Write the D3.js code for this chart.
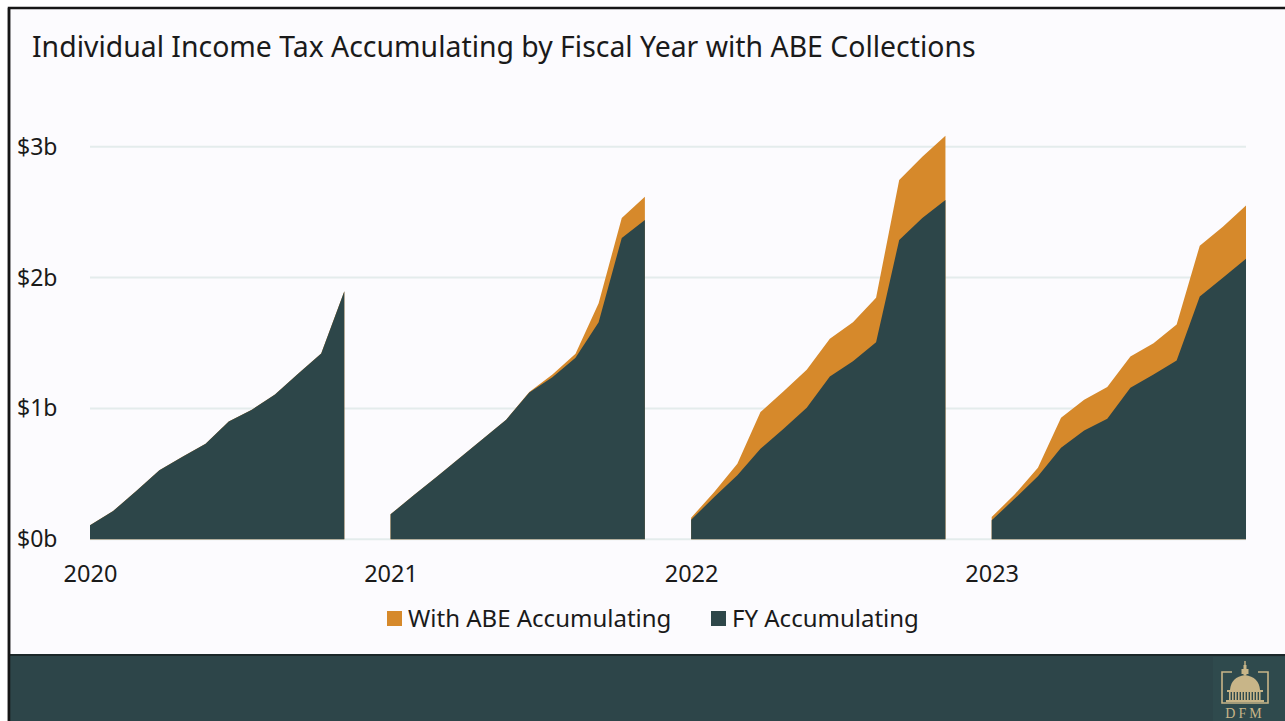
<!DOCTYPE html>
<html lang="en">
<head>
<meta charset="utf-8">
<title>Individual Income Tax Accumulating</title>
<script src="https://d3js.org/d3.v7.min.js"></script>
<style>
  body { margin: 0; background: #fff; }
  text { font-family: "Noto Sans", "Open Sans", sans-serif; }
</style>
</head>
<body>
<script>

var W = 1285, H = 721;

// fiscal years shown, and the accumulating totals for each month (in $ billions)
var years = ["2020", "2021", "2022", "2023"];

var fyAccum = [
  [0.107, 0.216, 0.37, 0.527, 0.63, 0.73, 0.90, 0.99, 1.107, 1.265, 1.42, 1.895],
  [0.191, 0.336, 0.478, 0.623, 0.768, 0.914, 1.122, 1.239, 1.387, 1.659, 2.303, 2.44],
  [0.150, 0.323, 0.489, 0.692, 0.845, 1.005, 1.244, 1.361, 1.506, 2.288, 2.456, 2.593],
  [0.145, 0.311, 0.481, 0.700, 0.832, 0.921, 1.158, 1.260, 1.366, 1.855, 1.998, 2.143]
];

var abeAccum = [
  [0.107, 0.216, 0.37, 0.527, 0.63, 0.73, 0.90, 0.99, 1.107, 1.265, 1.42, 1.895],
  [0.191, 0.336, 0.478, 0.623, 0.768, 0.914, 1.125, 1.26, 1.418, 1.804, 2.456, 2.618],
  [0.165, 0.361, 0.578, 0.972, 1.132, 1.295, 1.532, 1.659, 1.845, 2.746, 2.924, 3.084],
  [0.170, 0.344, 0.547, 0.929, 1.066, 1.163, 1.397, 1.499, 1.641, 2.244, 2.389, 2.550]
];

var yTicks = [0, 1, 2, 3];
var legendItems = ["With ABE Accumulating", "FY Accumulating"];

var darkColor = "#2d4649";
var orangeColor = "#d6892b";

var slots = 13; // 12 months + one empty slot between years

var svg = d3.select("body").append("svg")
    .attr("width", W)
    .attr("height", H);

// panel + frame
svg.append("rect")
    .attr("x", 9).attr("y", 8)
    .attr("width", W + 10).attr("height", H)
    .attr("fill", "#fcfbfe")
    .attr("stroke", "#161616")
    .attr("stroke-width", 2.5);

// footer band
svg.append("rect")
    .attr("x", 9).attr("y", 655)
    .attr("width", W).attr("height", H - 655)
    .attr("fill", "#2d4549");
svg.append("line")
    .attr("x1", 9).attr("x2", W)
    .attr("y1", 655).attr("y2", 655)
    .attr("stroke", "#1b2729")
    .attr("stroke-width", 2);
svg.append("line")
    .attr("x1", 9).attr("x2", 9)
    .attr("y1", 8).attr("y2", H)
    .attr("stroke", "#161616")
    .attr("stroke-width", 2.5);

// title
svg.append("text")
    .attr("x", 32)
    .attr("y", 57)
    .style("font-size", "28.4px")
    .attr("fill", "#1a1a1a")
    .text("Individual Income Tax Accumulating by Fiscal Year with ABE Collections");

var x = d3.scaleLinear()
    .domain([0, years.length * slots - 2])
    .range([90, 1246]);

var y = d3.scaleLinear()
    .domain([0, 3])
    .range([539.3, 146.7]);

// gridlines
svg.append("g")
  .selectAll("line")
  .data(yTicks)
  .enter().append("line")
    .attr("x1", x.range()[0])
    .attr("x2", x.range()[1])
    .attr("y1", function(d) { return y(d); })
    .attr("y2", function(d) { return y(d); })
    .attr("stroke", "#e4ecec")
    .attr("stroke-width", 2);

// y labels
svg.append("g")
  .selectAll("text")
  .data(yTicks)
  .enter().append("text")
    .attr("x", 17)
    .attr("y", function(d) { return y(d); })
    .attr("dy", "0.35em")
    .style("font-size", "23px")
    .attr("fill", "#1a1a1a")
    .text(function(d) { return "$" + d + "b"; });

// areas per fiscal year
function areaFor(yi) {
  return d3.area()
    .x(function(d, i) { return x(yi * slots + i); })
    .y0(y(0))
    .y1(function(d) { return y(d); });
}

var plot = svg.append("g");
years.forEach(function(yr, yi) {
  plot.append("path")
      .attr("d", areaFor(yi)(abeAccum[yi]))
      .attr("fill", orangeColor);
  plot.append("path")
      .attr("d", areaFor(yi)(fyAccum[yi]))
      .attr("fill", darkColor);
});

// x axis labels (year starts)
var xAxis = d3.axisBottom(x)
    .tickValues(years.map(function(d, i) { return i * slots; }))
    .tickFormat(function(d) { return years[d / slots]; })
    .tickSize(0)
    .tickPadding(0);

var gx = svg.append("g")
    .attr("transform", "translate(0,565)")
    .call(xAxis);
gx.select(".domain").remove();
gx.selectAll("text")
    .attr("dy", "0.71em")
    .attr("fill", "#1a1a1a")
    .style("font-family", "'Noto Sans', 'Open Sans', sans-serif")
    .style("font-size", "23.5px");

// legend
var legendX = [387, 711];
var legendColors = [orangeColor, darkColor];
var lg = svg.append("g").selectAll("g")
  .data(legendItems)
  .enter().append("g")
    .attr("transform", function(d, i) { return "translate(" + legendX[i] + ",611)"; });
lg.append("rect")
    .attr("width", 15).attr("height", 15)
    .attr("fill", function(d, i) { return legendColors[i]; });
lg.append("text")
    .attr("x", 21)
    .attr("y", 7.5)
    .attr("dy", "0.35em")
    .style("font-size", "24px")
    .attr("fill", "#1a1a1a")
    .text(function(d) { return d; });

// DFM logo in the footer
var gold = "#c8b588";
var logo = svg.append("g");
logo.append("rect")
    .attr("x", 1213).attr("y", 657)
    .attr("width", 72).attr("height", 64)
    .attr("fill", "#2f4a4d");
logo.append("path")
    .attr("d", "M1232,672 H1222 V703 H1268 V672 H1258")
    .attr("fill", "none")
    .attr("stroke", gold)
    .attr("stroke-width", 1.6);
// dome
logo.append("path")
    .attr("d", "M1230,690 Q1231,677 1245,675 Q1259,677 1260,690 Z")
    .attr("fill", gold);
logo.append("rect").attr("x", 1243.5).attr("y", 665).attr("width", 3).attr("height", 10).attr("fill", gold);
logo.append("rect").attr("x", 1241.5).attr("y", 669).attr("width", 7).attr("height", 5).attr("fill", gold);
logo.append("rect").attr("x", 1244.3).attr("y", 661).attr("width", 1.4).attr("height", 4).attr("fill", gold);
logo.append("rect").attr("x", 1227).attr("y", 690).attr("width", 36).attr("height", 2).attr("fill", gold);
logo.append("rect").attr("x", 1226).attr("y", 700).attr("width", 38).attr("height", 2).attr("fill", gold);
d3.range(1229, 1262, 3).forEach(function(cx) {
  logo.append("rect").attr("x", cx).attr("y", 692).attr("width", 1.6).attr("height", 8).attr("fill", gold);
});
logo.append("text")
    .attr("x", 1245).attr("y", 718)
    .attr("text-anchor", "middle")
    .style("font-family", "'Liberation Serif', 'DejaVu Serif', serif")
    .style("font-size", "14px")
    .style("letter-spacing", "3px")
    .attr("fill", gold)
    .text("DFM");

</script>
</body>
</html>
